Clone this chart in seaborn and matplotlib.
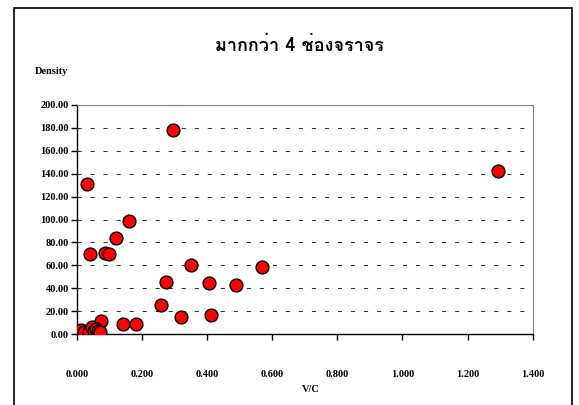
import matplotlib
matplotlib.use("Agg")
import matplotlib.pyplot as plt
from matplotlib import font_manager
from matplotlib.ft2font import FT2Font
import seaborn as sns
import pandas as pd

# Values
vc = [0.295, 0.032, 0.040, 0.087, 0.099, 0.120, 0.159, 0.350, 0.274, 0.406,
      0.490, 0.568, 0.259, 0.321, 0.411, 0.142, 0.182, 0.073, 1.292,
      0.013, 0.022, 0.036, 0.046, 0.051, 0.059, 0.063, 0.070]
density = [178.0, 131.3, 69.5, 71.0, 69.8, 83.5, 98.7, 60.5, 45.6, 44.3,
           43.0, 58.3, 25.3, 15.2, 16.6, 8.7, 8.7, 11.6, 142.6,
           4.0, 2.0, 1.5, 6.2, 2.9, 4.1, 3.0, 2.0]
x_ticks = [0.0, 0.2, 0.4, 0.6, 0.8, 1.0, 1.2, 1.4]
y_ticks = [0, 20, 40, 60, 80, 100, 120, 140, 160, 180, 200]
title = "มากกว่า 4 ช่องจราจร"


def thai_families():
    # look for any installed family that has Thai glyphs
    found = []
    for f in font_manager.fontManager.ttflist:
        try:
            cmap = FT2Font(f.fname).get_charmap()
        except Exception:
            continue
        if ord("ก") in cmap and f.name not in found:
            found.append(f.name)
    return found


df = pd.DataFrame({"V/C": vc, "Density": density})

sns.set_style("white")
plt.rcParams["font.family"] = ["Liberation Serif", "DejaVu Serif"]
plt.rcParams["text.color"] = "black"
plt.rcParams["xtick.color"] = "black"
plt.rcParams["ytick.color"] = "black"

fig = plt.figure(figsize=(5.79, 4.05), dpi=100)
ax = fig.add_axes([0.133, 0.175, 0.787, 0.566])

# horizontal dashed gridlines (Excel style)
for y in y_ticks[1:]:
    ax.axhline(y, color="#333333", lw=0.75, dashes=(4, 8.5), zorder=1)

sns.scatterplot(data=df, x="V/C", y="Density", ax=ax, color="#ff0000",
                edgecolor="black", linewidth=1.0, s=85, zorder=3, legend=False)

ax.set_xlim(0, 1.4)
ax.set_ylim(0, 200)
ax.set_xticks(x_ticks)
ax.set_yticks(y_ticks)
ax.set_xticklabels([f"{v:.3f}" for v in x_ticks], fontsize=7.5, fontweight="bold")
ax.set_yticklabels([f"{v:.2f}" for v in y_ticks], fontsize=7.5, fontweight="bold")
ax.tick_params(axis="x", direction="out", length=4, width=1, color="black", pad=22, bottom=True)
ax.tick_params(axis="y", direction="out", length=4, width=1, color="black", pad=2, left=True)
ax.set_xlabel("")
ax.set_ylabel("")

for side in ["left", "bottom"]:
    ax.spines[side].set_color("black")
    ax.spines[side].set_linewidth(1.0)
for side in ["top", "right"]:
    ax.spines[side].set_color("#808080")
    ax.spines[side].set_linewidth(0.8)

fig.text(311 / 579, 1 - 389 / 405, "V/C", fontsize=7.5, fontweight="bold",
         ha="center", va="center")
fig.text(35 / 579, 1 - 72 / 405, "Density", fontsize=7.5, fontweight="bold",
         ha="left", va="center")
fig.text(299 / 579, 1 - 46 / 405, title, fontsize=13,
         fontweight="bold", ha="center", va="center", color="black",
         family=thai_families() + ["DejaVu Sans"])

# outer chart border
fig.add_artist(plt.Rectangle((14 / 579, -0.05), 558 / 579, 1.05 - 8 / 405,
                             transform=fig.transFigure, fill=False,
                             edgecolor="black", lw=1.2))

fig.savefig("out.png", dpi=100)
